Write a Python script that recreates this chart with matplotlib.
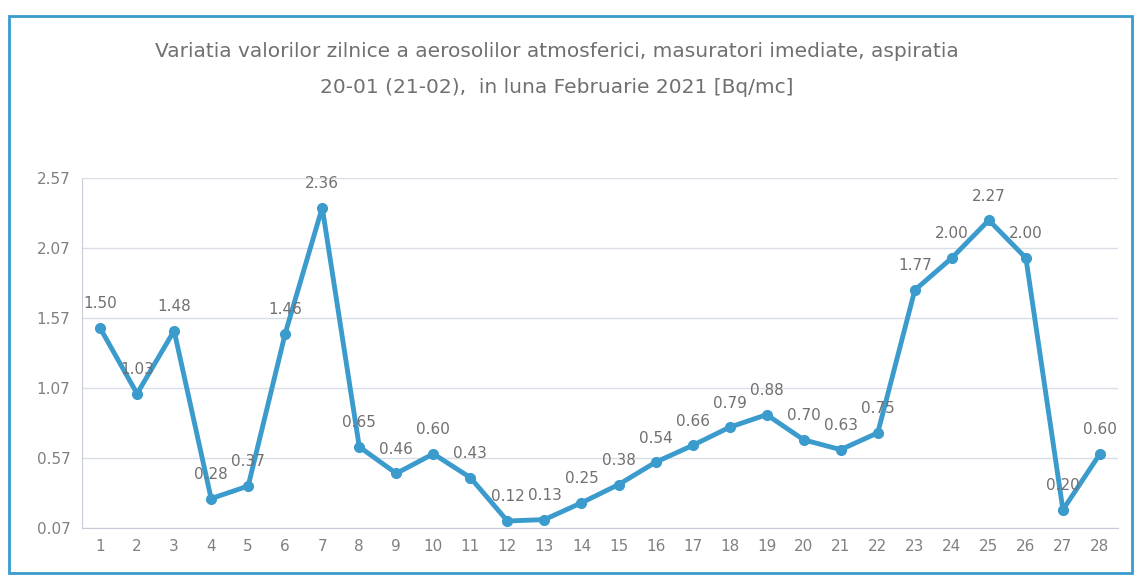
import matplotlib.pyplot as plt
from matplotlib.patches import Rectangle

days = list(range(1, 29))
values = [1.50, 1.03, 1.48, 0.28, 0.37, 1.46, 2.36, 0.65, 0.46, 0.60,
          0.43, 0.12, 0.13, 0.25, 0.38, 0.54, 0.66, 0.79, 0.88, 0.70,
          0.63, 0.75, 1.77, 2.00, 2.27, 2.00, 0.20, 0.60]
yticks = [0.07, 0.57, 1.07, 1.57, 2.07, 2.57]

title = ("Variatia valorilor zilnice a aerosolilor atmosferici, masuratori imediate, aspiratia\n"
         "20-01 (21-02),  in luna Februarie 2021 [Bq/mc]")

blue = '#3a9bcc'
grey = '#707070'

fig = plt.figure(figsize=(11.37, 5.82), dpi=100)
ax = fig.add_axes([0.0717, 0.0928, 0.912, 0.601])

ax.plot(days, values, color=blue, linewidth=3.5, marker='o', markersize=7,
        solid_joinstyle='round')
for d, v in zip(days, values):
    ax.annotate(f"{v:.2f}", (d, v), xytext=(0, 12), textcoords='offset points',
                ha='center', va='bottom', fontsize=11, color=grey)

ax.set_xlim(0.5, 28.5)
ax.set_ylim(0.07, 2.57)
ax.set_xticks(days)
ax.set_yticks(yticks)
ax.set_yticklabels([f"{t:.2f}" for t in yticks])
ax.tick_params(axis='both', colors='#808080', labelsize=11, length=0, pad=8)
ax.grid(axis='y', color='#d9dde6', linewidth=1)
ax.set_axisbelow(True)
for s in ['top', 'right']:
    ax.spines[s].set_visible(False)
ax.spines['left'].set_color('#c8cbd6')
ax.spines['bottom'].set_color('#c8cbd6')

fig.text(0.49, 0.881, title, ha='center', va='center', fontsize=14.5,
         color=grey, linespacing=2.1)

fig.patches.append(Rectangle((0.008, 0.015), 0.988, 0.958, transform=fig.transFigure,
                             fill=False, edgecolor=blue, linewidth=2))

fig.savefig('out.png', dpi=100)
